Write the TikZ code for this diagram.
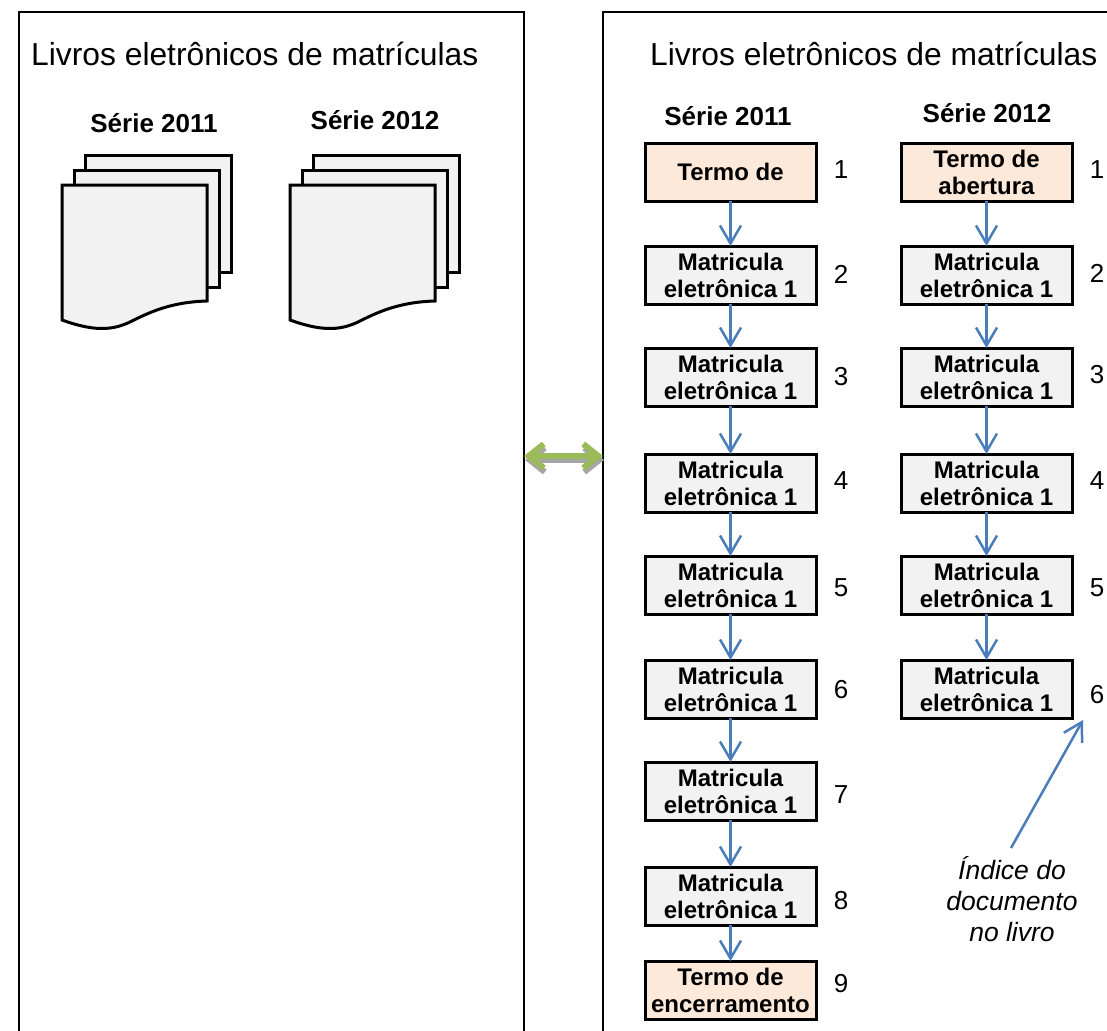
\documentclass[tikz,border=0pt]{standalone}
\usepackage{fontspec}
\setmainfont{Liberation Sans}
\usetikzlibrary{arrows.meta}
\definecolor{boxgray}{HTML}{F2F2F2}
\definecolor{boxpeach}{HTML}{FDE9D9}
\definecolor{arrowblue}{HTML}{4A7EBB}
\definecolor{dblgreen}{HTML}{9BBB59}
\definecolor{dblshadow}{HTML}{A6A6A6}
\tikzset{
  panel/.style={draw=black,line width=2.5pt,fill=white,outer sep=0pt},
  title/.style={font=\fontsize{31.8}{36}\selectfont,anchor=base west,inner sep=0pt},
  serie/.style={font=\fontsize{26}{30}\selectfont\bfseries,anchor=base,inner sep=0pt},
  numlab/.style={font=\fontsize{26}{30}\selectfont,anchor=base,inner sep=0pt},
  stepbox/.style={draw=black,line width=3pt,fill=boxgray,minimum width=171pt,inner sep=0pt,outer sep=0pt,align=center,
     font=\fontsize{24}{27}\selectfont\bfseries,anchor=north west},
  startbox/.style={stepbox,fill=boxpeach},
  flow/.style={draw=arrowblue,line width=2.5pt,-{Straight Barb[length=18pt,width=21pt,line width=2.5pt]}},
  page/.style={draw=black,line width=3pt,fill=boxgray,line join=miter},
  dbl/.style={line width=6pt,{Straight Barb[length=15pt,width=24pt,line width=6pt]}-{Straight Barb[length=15pt,width=24pt,line width=6pt]}}
}
\newcommand{\stackpage}[1]{%
  \begin{scope}[xshift=#1 pt]
    \draw[page] (85,155) -- (231,155) -- (231,272) -- (85,272) -- cycle;
    \draw[page] (74,170) -- (219,170) -- (219,287) -- (74,287) -- cycle;
    \draw[page] (62,185) -- (207,185) -- (207,301) .. controls (170,302) and (148,313) .. (130,322)
       .. controls (113,330) and (95,332) .. (62,320) -- cycle;
  \end{scope}}
\begin{document}
\begin{tikzpicture}[x=1pt,y=-1pt]
\useasboundingbox (0,0) rectangle (1107,1030);
\begin{scope}
\clip (0,0) rectangle (1107,1030);
\node[panel,anchor=north west,minimum width=505pt,minimum height=1100pt,inner sep=0pt] (leftp) at (19,12) {};
\node[panel,anchor=north west,minimum width=600pt,minimum height=1100pt,inner sep=0pt] (rightp) at (603,12) {};
\end{scope}
\node[title] (tl) at (31,66) {Livros eletrônicos de matrículas};
\node[title] (tr) at (650,66) {Livros eletrônicos de matrículas};
\node[serie] (s1l) at (154,132) {Série 2011};
\node[serie] (s2l) at (375,129) {Série 2012};
\node[serie] (s1r) at (728,125) {Série 2011};
\node[serie] (s2r) at (987,123) {Série 2012};
\stackpage{0}
\stackpage{228}
% left column
\node[startbox,minimum height=58pt] (a1) at (645,143) {Termo de};
\node[stepbox,minimum height=58pt] (a2) at (645,246) {Matricula\\eletrônica 1};
\node[stepbox,minimum height=58pt] (a3) at (645,348) {Matricula\\eletrônica 1};
\node[stepbox,minimum height=58pt] (a4) at (645,454) {Matricula\\eletrônica 1};
\node[stepbox,minimum height=58pt] (a5) at (645,556) {Matricula\\eletrônica 1};
\node[stepbox,minimum height=58pt] (a6) at (645,660) {Matricula\\eletrônica 1};
\node[stepbox,minimum height=58pt] (a7) at (645,762) {Matricula\\eletrônica 1};
\node[stepbox,minimum height=58pt] (a8) at (645,867) {Matricula\\eletrônica 1};
\node[startbox,minimum height=58pt] (a9) at (645,961) {Termo de\\encerramento};
% right column
\node[startbox,minimum height=58pt] (b1) at (901,143) {Termo de\\abertura};
\node[stepbox,minimum height=58pt] (b2) at (901,246) {Matricula\\eletrônica 1};
\node[stepbox,minimum height=58pt] (b3) at (901,348) {Matricula\\eletrônica 1};
\node[stepbox,minimum height=58pt] (b4) at (901,454) {Matricula\\eletrônica 1};
\node[stepbox,minimum height=58pt] (b5) at (901,556) {Matricula\\eletrônica 1};
\node[stepbox,minimum height=58pt] (b6) at (901,660) {Matricula\\eletrônica 1};
\foreach \i/\j in {1/2,2/3,3/4,4/5,5/6,6/7,7/8,8/9}{\draw[flow] (a\i) -- (a\j);}
\foreach \i/\j in {1/2,2/3,3/4,4/5,5/6}{\draw[flow] (b\i) -- (b\j);}
% numbers
\foreach \n/\y in {1/178,2/283,3/385,4/489,5/596,6/698,7/803,8/909,9/992}{\node[numlab] (na\n) at (841,\y) {\n};}
\foreach \n/\y in {1/178,2/282,3/383,4/489,5/596,6/703}{\node[numlab] (nb\n) at (1097,\y) {\n};}
% annotation
\node[font=\fontsize{26.5}{31}\selectfont\itshape,align=center,inner sep=0pt] (idx) at (1012,899) {Índice do\\documento\\no livro};
\coordinate (idxtip) at (1083,720);
\coordinate (idxstart) at (1011,848);
\draw[flow] (idxstart) -- (idxtip);
% double arrow
\coordinate (dl) at (524,456);
\coordinate (dr) at (603,456);
\draw[dbl,draw=dblshadow] ([shift={(1,4)}]dl) -- ([shift={(1,4)}]dr);
\draw[dbl,draw=dblgreen] (dl) -- (dr);
\end{tikzpicture}
\end{document}
